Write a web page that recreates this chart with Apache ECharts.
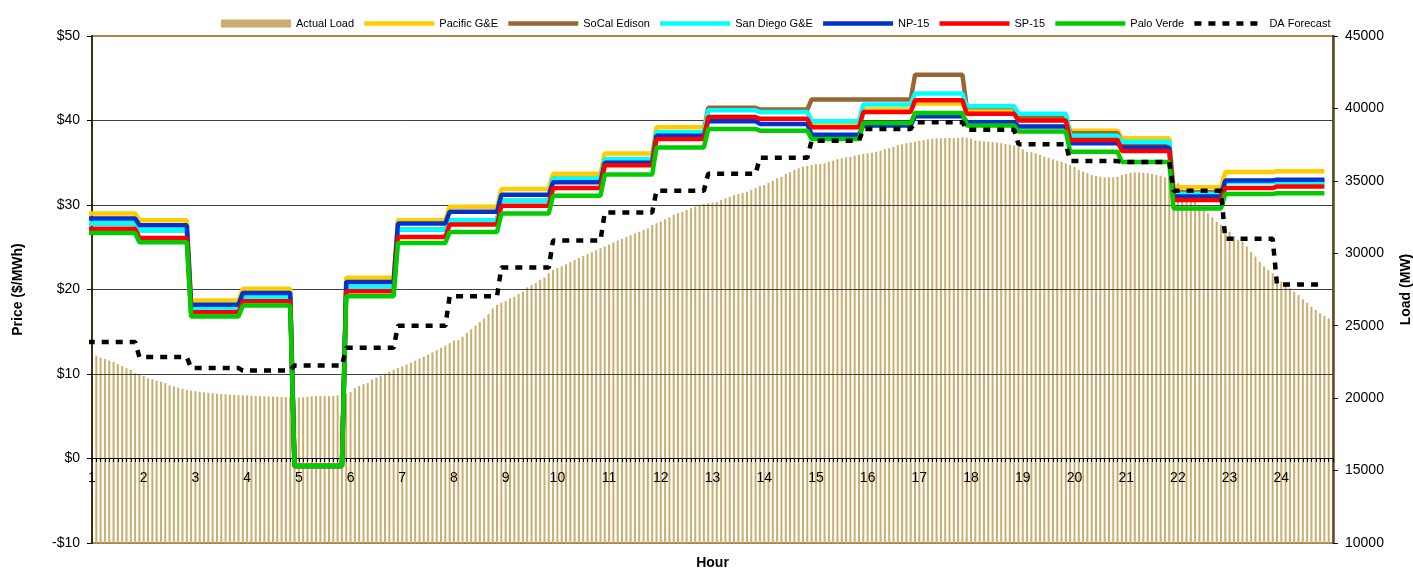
<!DOCTYPE html>
<html>
<head>
<meta charset="utf-8">
<title>Hourly prices and load</title>
<script src="https://cdn.jsdelivr.net/npm/echarts@6/dist/echarts.min.js"></script>
<style>
html,body{margin:0;padding:0;background:#fff}
#chart{width:1413px;height:570px}
</style>
</head>
<body>
<div id="chart"></div>
<script>
// hourly prices ($/MWh), hour 1..24
var hourLabels = ['1','2','3','4','5','6','7','8','9','10','11','12','13','14','15','16','17','18','19','20','21','22','23','24'];
var pacificGE  = [29.0,28.2,18.7,20.1,-0.9,21.4,28.2,29.8,31.9,33.7,36.1,39.2,41.3,41.0,39.6,41.3,42.0,41.1,40.5,38.8,37.9,32.1,33.9,34.0];
var socalEdison= [27.8,27.0,17.8,19.1,-0.9,20.3,27.1,28.2,30.5,33.1,35.4,38.6,41.5,41.3,42.5,42.5,45.4,41.6,40.4,38.5,37.2,31.5,32.8,32.8];
var sanDiegoGE = [27.8,27.0,17.8,19.1,-0.9,20.3,27.1,28.2,30.5,33.1,35.4,38.6,41.2,41.0,39.9,41.9,43.2,41.7,40.8,38.2,37.5,31.3,32.7,32.7];
var np15       = [28.4,27.6,18.2,19.6,-0.9,20.9,27.8,29.2,31.2,32.7,35.0,38.2,39.9,39.6,38.3,39.4,40.5,39.8,39.3,37.3,36.8,31.0,32.9,33.0];
var sp15       = [27.2,26.1,17.3,18.6,-0.9,19.8,26.2,27.7,29.9,32.0,34.7,37.8,40.4,40.2,39.2,41.0,42.4,40.8,40.0,37.7,36.4,30.6,32.0,32.2];
var paloVerde  = [26.7,25.6,16.8,18.1,-0.9,19.2,25.5,26.8,29.0,31.1,33.6,36.8,39.0,38.8,37.8,39.7,40.9,39.4,38.7,36.3,35.1,29.6,31.3,31.4];
var daForecast = [13.8,12.0,10.7,10.4,11.0,13.1,15.7,19.2,22.6,25.8,29.1,31.7,33.7,35.6,37.6,39.0,39.8,38.9,37.2,35.2,35.1,31.7,26.0,20.6];

// actual load (MW), 5-minute intervals, 12 per hour
var actualLoad = [
  22930,22800,22700,22590,22510,22360,22220,22070,21960,21720,21600,21530,
  21370,21300,21210,21120,21030,20880,20810,20720,20640,20570,20520,20480,
  20440,20400,20370,20340,20310,20290,20270,20250,20230,20210,20200,20190,
  20170,20150,20140,20120,20110,20100,20090,20080,20070,20060,20050,20040,
  20060,20100,20120,20140,20150,20140,20130,20150,20200,20260,20330,20420,
  20700,20840,20960,21040,21300,21420,21560,21700,21830,21960,22080,22200,
  22320,22450,22590,22730,22870,23010,23160,23310,23470,23630,23800,23970,
  24000,24250,24500,24750,25000,25250,25500,25800,26200,26430,26590,26710,
  26890,27000,27190,27350,27650,27810,27930,28160,28320,28620,28850,28990,
  29100,29250,29400,29540,29680,29820,29950,30080,30210,30340,30470,30600,
  30750,30880,31000,31120,31240,31360,31480,31600,31730,31950,32070,32180,
  32350,32490,32640,32760,32870,32990,33110,33220,33310,33400,33450,33490,
  33560,33680,33800,33910,34020,34090,34180,34250,34370,34490,34650,34710,
  34870,35010,35180,35290,35470,35590,35750,35870,35980,36030,36100,36140,
  36160,36210,36320,36390,36490,36560,36630,36670,36740,36790,36860,36900,
  36940,37010,37080,37180,37250,37360,37480,37520,37590,37640,37700,37770,
  37820,37870,37910,37940,37940,37950,37950,37960,37980,38010,37980,37900,
  37790,37770,37740,37700,37680,37650,37590,37540,37500,37440,37330,37180,
  37010,36970,36900,36790,36670,36600,36490,36390,36320,36210,36100,35980,
  35750,35630,35520,35410,35340,35290,35250,35250,35250,35290,35400,35470,
  35560,35570,35570,35560,35520,35470,35410,35340,35250,35180,35060,34830,
  34600,34370,34020,33680,33270,32990,32760,32490,32180,31950,31730,31490,
  31170,30940,30800,30460,30110,29770,29420,29080,28850,28620,28390,28040,
  27810,27580,27350,27120,26820,26590,26310,26090,25860,25670,25510,25120
];

var FONT = 'Arial, "Liberation Sans", sans-serif';

// hourly value held over the hour (5-minute steps)
function stepLine(vals){
	var d = [];
	for (var i = 0; i < vals.length; i++) {
		var h = i + 1;
		d.push([h - 1/12, vals[i]]);
		d.push([h + 10/12, vals[i]]);
	}
	return d;
}
// interval ending time of each 5-minute reading
function loadBars(vals){
	return vals.map(function(v, i){ return [1 + (i + 1) / 12, v]; });
}

function priceSeries(name, vals, color, width, dash){
	return {
		name: name,
		type: 'line',
		yAxisIndex: 0,
		data: stepLine(vals),
		symbol: 'none',
		z: 3,
		silent: true,
		lineStyle: { color: color, width: width, type: dash || 'solid', cap: 'butt' },
		itemStyle: { color: color },
		emphasis: { disabled: true }
	};
}

var myChart = echarts.init(document.getElementById('chart'));
var option = {
	animation: false,
	backgroundColor: '#fff',
	textStyle: { fontFamily: FONT },
	grid: {
		left: 92, right: 80, top: 36, bottom: 27,
		show: true, borderColor: '#A8884A', borderWidth: 2,
		backgroundColor: 'transparent',
		outerBoundsMode: 'none'
	},
	legend: {
		left: 216, top: 13,
		itemWidth: 70, itemHeight: 8, itemGap: 8,
		textStyle: { fontSize: 11, color: '#000', fontFamily: FONT },
		lineStyle: { width: 4.5 },
		data: [
			{ name: 'Actual Load', icon: 'rect' },
			{ name: 'Pacific G&E', itemStyle: { opacity: 0 } },
			{ name: 'SoCal Edison', itemStyle: { opacity: 0 } },
			{ name: 'San Diego G&E', itemStyle: { opacity: 0 } },
			{ name: 'NP-15', itemStyle: { opacity: 0 } },
			{ name: 'SP-15', itemStyle: { opacity: 0 } },
			{ name: 'Palo Verde', itemStyle: { opacity: 0 } },
			{ name: 'DA Forecast', itemStyle: { opacity: 0 } }
		]
	},
	xAxis: {
		type: 'value',
		position: 'bottom',
		// axis sits on the $0 line: (543 - 458) px above the plot bottom
		offset: -85,
		min: 1, max: 25, interval: 1,
		z: 2,
		axisLine: { show: true, onZero: false, lineStyle: { color: '#000', width: 1 } },
		axisTick: { show: true, length: 4, lineStyle: { color: '#000' } },
		minorTick: { show: true, splitNumber: 12, length: 4, lineStyle: { color: '#000' } },
		splitLine: { show: false },
		axisLabel: {
			show: true, margin: 13, fontSize: 14, color: '#000', fontFamily: FONT,
			formatter: function(v){ return hourLabels[v - 1] || ''; }
		},
		name: 'Hour', nameLocation: 'middle', nameGap: 98,
		nameTextStyle: { fontSize: 14, fontWeight: 'bold', color: '#000', fontFamily: FONT }
	},
	yAxis: [
		{
			type: 'value',
			min: -10, max: 50, interval: 10,
			z: 2,
			axisLine: { show: true, onZero: false, lineStyle: { color: '#3b2e12', width: 2 } },
			axisTick: { show: true, length: 5, lineStyle: { color: '#000' } },
			splitLine: { show: true, lineStyle: { color: ['#A8884A','#000','#404040','#404040','#404040','#404040','#A8884A'], width: 1 } },
			axisLabel: {
				margin: 12, fontSize: 14, color: '#000', fontFamily: FONT,
				formatter: function(v){ return v < 0 ? '-$' + (-v) : '$' + v; }
			},
			name: 'Price ($/MWh)', nameLocation: 'middle', nameGap: 67, nameRotate: 90,
			nameTextStyle: { fontSize: 14, fontWeight: 'bold', color: '#000', fontFamily: FONT }
		},
		{
			type: 'value',
			position: 'right',
			min: 10000, max: 45000, interval: 5000,
			z: 2,
			axisLine: { show: true, onZero: false, lineStyle: { color: '#5e4a22', width: 2.5 } },
			axisTick: { show: true, length: 5, lineStyle: { color: '#000' } },
			splitLine: { show: false },
			axisLabel: {
				margin: 12, fontSize: 14, color: '#000', fontFamily: FONT,
				formatter: function(v){ return String(v); }
			},
			name: 'Load (MW)', nameLocation: 'middle', nameGap: 66, nameRotate: 90,
			nameTextStyle: { fontSize: 14, fontWeight: 'bold', color: '#000', fontFamily: FONT }
		}
	],
	series: [
		{
			name: 'Actual Load',
			type: 'bar',
			yAxisIndex: 1,
			data: loadBars(actualLoad),
			barWidth: 2,
			z: 1,
			silent: true,
			itemStyle: { color: '#C9AE6F' },
			emphasis: { disabled: true }
		},
		priceSeries('Pacific G&E', pacificGE, '#FFCC00', 4.5),
		priceSeries('SoCal Edison', socalEdison, '#996633', 4.5),
		priceSeries('San Diego G&E', sanDiegoGE, '#00FFFF', 4.5),
		priceSeries('NP-15', np15, '#0033CC', 4.5),
		priceSeries('SP-15', sp15, '#FF0000', 4.5),
		priceSeries('Palo Verde', paloVerde, '#00CC00', 4.5),
		priceSeries('DA Forecast', daForecast, '#000000', 4.5, [7, 7])
	]
};
myChart.setOption(option);
window.addEventListener('resize', function(){ myChart.resize(); });
</script>
</body>
</html>
